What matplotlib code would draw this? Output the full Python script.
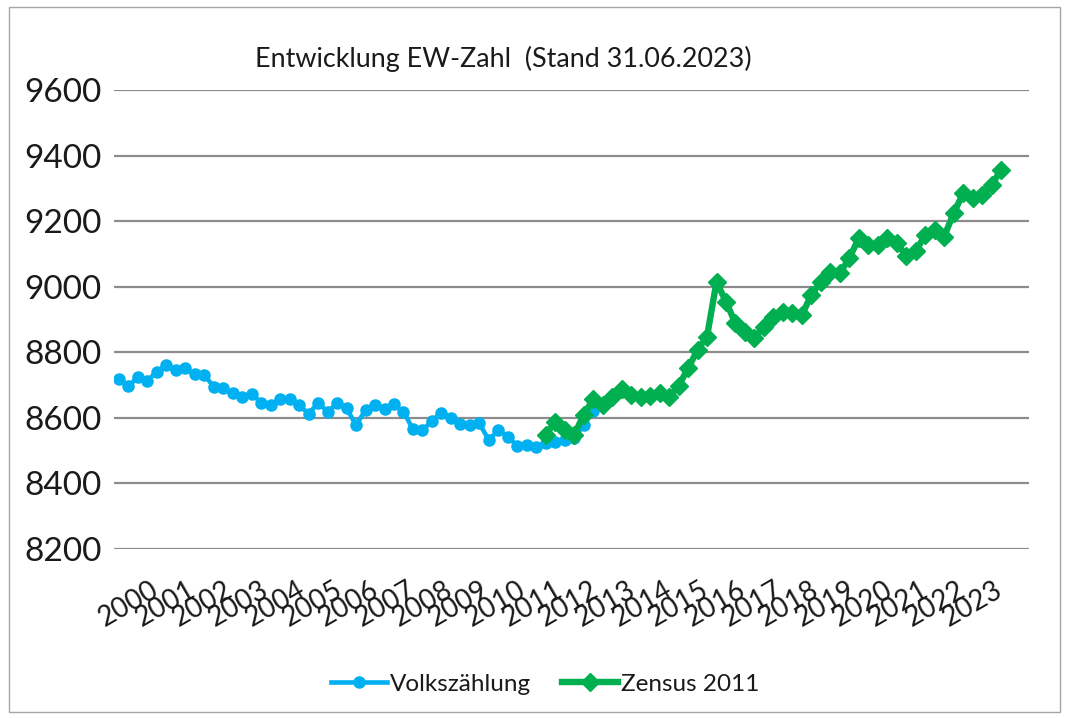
import numpy as np
import matplotlib
matplotlib.use("Agg")
import matplotlib.pyplot as plt
from matplotlib.patches import Rectangle

# quarterly values (index 0 = 2000 Q1)
volks_vals = [8718, 8697, 8724, 8713, 8741, 8761, 8746, 8751, 8733, 8731,
              8695, 8690, 8675, 8663, 8673, 8646, 8639, 8657, 8657, 8639,
              8612, 8646, 8619, 8644, 8629, 8578, 8624, 8639, 8626, 8641,
              8619, 8565, 8563, 8590, 8616, 8599, 8580, 8578, 8583, 8532,
              8563, 8543, 8514, 8517, 8510, 8522, 8527, 8532, 8538, 8578,
              8622, 8640]
zensus_start = 45
zensus_vals = [8548, 8588, 8563, 8548, 8609, 8657, 8639, 8665, 8687, 8670,
               8665, 8667, 8677, 8665, 8697, 8751, 8807, 8848, 9015, 8954,
               8888, 8863, 8843, 8878, 8909, 8924, 8919, 8914, 8975, 9015,
               9046, 9041, 9087, 9148, 9127, 9127, 9148, 9132, 9095, 9108,
               9158, 9173, 9153, 9224, 9285, 9270, 9280, 9310, 9356]
years = [str(y) for y in range(2000, 2024)]
y_ticks = [8200, 8400, 8600, 8800, 9000, 9200, 9400, 9600]

plt.rcParams['font.family'] = ['Lato', 'DejaVu Sans']

fig = plt.figure(figsize=(10.67, 7.18), dpi=100)
ax = fig.add_axes([0.107, 0.2354, 0.857, 0.6393])

xv = np.arange(len(volks_vals))
xz = np.arange(zensus_start, zensus_start + len(zensus_vals))

ax.plot(xv, volks_vals, color='#00B0F0', lw=3.3, marker='o', ms=8,
        label='Volkszählung', zorder=3)
ax.plot(xz, zensus_vals, color='#00B050', lw=4.6, marker='D', ms=9.5,
        label='Zensus 2011', zorder=4)

ax.set_xlim(-0.5, 95.9)
ax.set_ylim(8200, 9600)
ax.set_yticks(y_ticks)
ax.yaxis.grid(True, color='#8c8c8c', lw=1.6)
ax.set_axisbelow(True)
for s in ax.spines.values():
    s.set_visible(False)
ax.tick_params(axis='y', length=0, pad=9, labelsize=24, labelcolor='#1a1a1a')

ticks = np.linspace(3.3, 92.2, len(years))
ax.set_xticks(ticks)
ax.set_xticklabels(years, rotation=30, ha='right', va='top',
                   rotation_mode='anchor', fontsize=20, color='#1a1a1a')
ax.tick_params(axis='x', length=0, pad=20)

fig.text(0.4714, 0.918, 'Entwicklung EW-Zahl  (Stand 31.06.2023)',
         ha='center', va='center', fontsize=19.4, color='#1a1a1a')

fig.legend(loc='center', bbox_to_anchor=(0.511, 0.047), ncol=2,
           frameon=False, fontsize=17.5, handlelength=2.3, handletextpad=0.1,
           columnspacing=1.3, labelcolor='#1a1a1a')

fig.patches.append(Rectangle((0.008, 0.008), 0.985, 0.982,
                             transform=fig.transFigure, fill=False,
                             edgecolor='#a6a6a6', lw=1))

plt.savefig('out.png', dpi=100)
plt.close()
